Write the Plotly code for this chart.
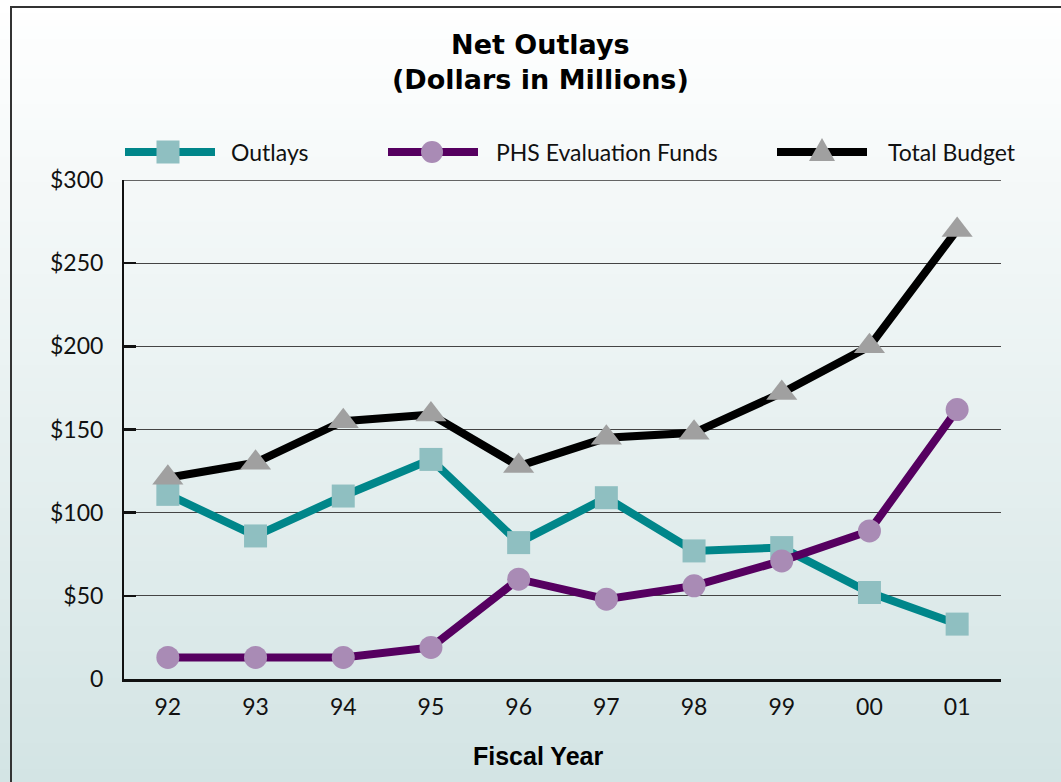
import plotly.graph_objects as go

years = ["92", "93", "94", "95", "96", "97", "98", "99", "00", "01"]
outlays = [111, 86, 110, 132, 82, 109, 77, 79, 52, 33]
phs_funds = [13, 13, 13, 19, 60, 48, 56, 71, 89, 162]
total_budget = [121, 130, 155, 159, 128, 145, 148, 172, 200, 270]
y_ticks = [0, 50, 100, 150, 200, 250, 300]
y_tick_labels = ["0", "$50", "$100", "$150", "$200", "$250", "$300"]

W, H = 1061, 782
L, R, T, B = 124, 1001, 180, 679
PW, PH = R - L, B - T


def px(x):
    return (x - L) / PW


def py(y):
    return (B - y) / PH


FONT = "Lato"
series = [
    ("Outlays", outlays, "#00868a", "#8fbfc1", "square", 23),
    ("PHS Evaluation Funds", phs_funds, "#560060", "#a98bb5", "circle", 23),
    ("Total Budget", total_budget, "#000000", "#a0a0a0", "triangle-up", 27),
]

fig = go.Figure()
for name, vals, lc, mc, sym, ms in series:
    fig.add_trace(go.Scatter(
        x=list(range(len(years))), y=vals, name=name, mode="lines+markers",
        line=dict(color=lc, width=8),
        marker=dict(symbol=sym, size=ms, color=mc, line=dict(width=0)),
        showlegend=False, cliponaxis=False, hoverinfo="skip",
    ))

shapes = []
# gradient background
N = 60
c0 = (255, 255, 255)
c1 = (211, 228, 228)
for i in range(N):
    y0p = i * H / N
    y1p = (i + 1) * H / N + 1
    t = (i + 0.5) / N
    col = tuple(round(c0[k] + (c1[k] - c0[k]) * t) for k in range(3))
    shapes.append(dict(type="rect", xref="paper", yref="paper",
                       x0=px(-5), x1=px(W + 5), y0=py(y1p), y1=py(y0p),
                       fillcolor="rgb(%d,%d,%d)" % col, line=dict(width=0), layer="below"))
# frame
shapes.append(dict(type="rect", xref="paper", yref="paper",
                   x0=px(11), x1=px(W + 20), y0=py(H + 20), y1=py(7),
                   line=dict(color="#333333", width=2), fillcolor="rgba(0,0,0,0)", layer="below"))
# top gridline at the axis maximum
shapes.append(dict(type="line", xref="paper", yref="y", x0=0, x1=1, y0=y_ticks[-1], y1=y_ticks[-1],
                   line=dict(color="#333333", width=1.5), layer="below"))

# legend keys
leg = [
    (125, 215, 168, 229),
    (388, 478, 432, 494),
    (777, 867, 822, 886),
]
ly = 152
annotations = []
for (x0, x1, xc, xt), (name, vals, lc, mc, sym, ms) in zip(leg, series):
    shapes.append(dict(type="line", xref="paper", yref="paper",
                       x0=px(x0), x1=px(x1), y0=py(ly), y1=py(ly),
                       line=dict(color=lc, width=8)))
    if sym == "square":
        shapes.append(dict(type="rect", xref="paper", yref="paper",
                           x0=px(xc - 11.5), x1=px(xc + 11.5), y0=py(ly + 11.5), y1=py(ly - 11.5),
                           fillcolor=mc, line=dict(width=0)))
    elif sym == "circle":
        shapes.append(dict(type="circle", xref="paper", yref="paper",
                           x0=px(xc - 11), x1=px(xc + 11), y0=py(ly + 11), y1=py(ly - 11),
                           fillcolor=mc, line=dict(width=0)))
    else:
        path = "M %f %f L %f %f L %f %f Z" % (
            px(xc - 13), py(ly + 9), px(xc + 13), py(ly + 9), px(xc), py(ly - 14))
        shapes.append(dict(type="path", xref="paper", yref="paper", path=path,
                           fillcolor=mc, line=dict(width=0)))
    annotations.append(dict(text=name, xref="paper", yref="paper", x=px(xt), y=py(ly),
                            xanchor="left", yanchor="middle", showarrow=False,
                            font=dict(family=FONT, size=23, color="#111111")))

annotations.append(dict(text="<b>Net Outlays<br>(Dollars in Millions)</b>", xref="paper", yref="paper",
                        x=px(540), y=py(62), xanchor="center", yanchor="middle", showarrow=False,
                        font=dict(family="DejaVu Sans", size=27, color="#000000")))
annotations.append(dict(text="<b>Fiscal Year</b>", xref="paper", yref="paper",
                        x=px(538), y=py(756), xanchor="center", yanchor="middle", showarrow=False,
                        font=dict(family="Liberation Sans", size=25, color="#000000")))

fig.update_layout(
    width=W, height=H,
    margin=dict(l=L, r=W - R, t=T, b=H - B, pad=0),
    paper_bgcolor="white", plot_bgcolor="rgba(0,0,0,0)",
    shapes=shapes, annotations=annotations, showlegend=False, hovermode=False,
    xaxis=dict(range=[-0.5, 9.5], tickvals=list(range(len(years))), ticktext=years,
               showgrid=False, zeroline=False, showline=True, linecolor="#111111", linewidth=2.5,
               ticks="", tickfont=dict(family=FONT, size=23, color="#111111"),
               ticklabelstandoff=6, fixedrange=True),
    yaxis=dict(range=[0, 300], tickvals=y_ticks, ticktext=y_tick_labels,
               showgrid=True, gridcolor="#444444", gridwidth=1.3, zeroline=False,
               showline=True, linecolor="#111111", linewidth=2,
               ticks="inside", ticklen=12, tickwidth=2.5, tickcolor="#111111",
               tickfont=dict(family=FONT, size=23, color="#111111"),
               ticklabelstandoff=14, fixedrange=True),
)

fig.write_html("out.html", config={"displayModeBar": False, "staticPlot": True},
               post_script="document.body.style.margin='0';document.body.style.padding='0';")
